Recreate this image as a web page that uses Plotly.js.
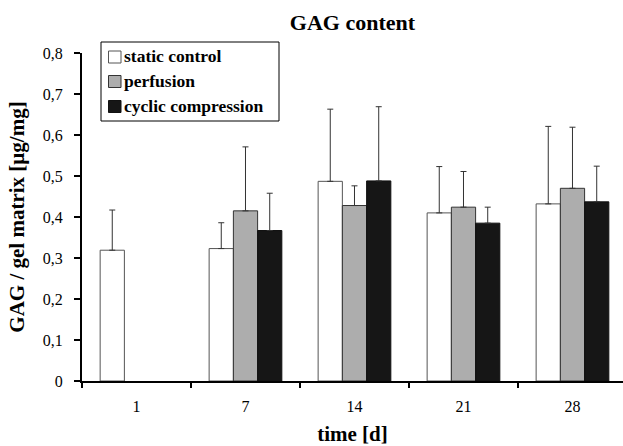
<!DOCTYPE html>
<html>
<head>
<meta charset="utf-8">
<script src="https://cdn.plot.ly/plotly-3.0.1.min.js"></script>
<style>html,body{margin:0;padding:0;background:#fff;}#chart{width:623px;height:446px;}</style>
</head>
<body>
<div id="chart"></div>
<script>
const days = ['1', '7', '14', '21', '28'];
const seriesNames = ['static control', 'perfusion', 'cyclic compression'];
const staticControl = [0.319, 0.323, 0.487, 0.410, 0.432];
const perfusion = [null, 0.415, 0.428, 0.424, 0.470];
const cyclicCompression = [null, 0.367, 0.488, 0.385, 0.437];
const staticErr = [0.098, 0.063, 0.176, 0.113, 0.189];
const perfusionErr = [null, 0.156, 0.048, 0.087, 0.149];
const cyclicErr = [null, 0.091, 0.181, 0.039, 0.087];
const yTickVals = [0, 0.1, 0.2, 0.3, 0.4, 0.5, 0.6, 0.7, 0.8];
const yTickText = ['0', '0,1', '0,2', '0,3', '0,4', '0,5', '0,6', '0,7', '0,8'];

const FONT = 'Liberation Serif';
const fills = ['#ffffff', '#adadad', '#161616'];
const outlines = ['#555555', '#333333', '#111111'];
const vals = [staticControl, perfusion, cyclicCompression];
const errs = [staticErr, perfusionErr, cyclicErr];

const traces = vals.map((v, i) => ({
  type: 'bar',
  name: seriesNames[i],
  x: days,
  y: v,
  marker: {color: fills[i], line: {color: outlines[i], width: 1}},
  error_y: {type: 'data', symmetric: false, array: errs[i], arrayminus: errs[i].map(() => 0),
            color: '#333333', thickness: 1, width: 3},
  hoverinfo: 'none'
}));

// layout geometry
const W = 623, H = 446;
const M = {l: 82, r: 0, t: 53, b: 65};
const pw = W - M.l - M.r, ph = H - M.t - M.b;
const px = x => (x - M.l) / pw;
const py = y => (H - M.b - y) / ph;

const shapes = [];
const annotations = [];
// legend box
shapes.push({type: 'rect', xref: 'paper', yref: 'paper', x0: px(101), x1: px(279), y0: py(121), y1: py(42),
  line: {color: '#000', width: 1}, fillcolor: '#fff', layer: 'above'});
const legY = [57, 81.5, 106.5];
seriesNames.forEach((n, i) => {
  shapes.push({type: 'rect', xref: 'paper', yref: 'paper', x0: px(108.5), x1: px(121), y0: py(legY[i] + 6), y1: py(legY[i] - 6),
    line: {color: outlines[i], width: 1}, fillcolor: fills[i], layer: 'above'});
  annotations.push({xref: 'paper', yref: 'paper', x: px(122), y: py(legY[i] - 1), xanchor: 'left', yanchor: 'middle',
    text: '<b>' + n + '</b>', showarrow: false, font: {family: FONT, size: 17.5, color: '#000'}});
});

const layout = {
  width: W, height: H,
  margin: M,
  paper_bgcolor: '#fff', plot_bgcolor: '#fff',
  showlegend: false,
  barmode: 'group', bargap: 0.333, bargroupgap: 0,
  font: {family: FONT, color: '#000'},
  title: {text: '<b>GAG content</b>', font: {family: FONT, size: 22, color: '#000'},
          xref: 'paper', x: 0.5, xanchor: 'center', yref: 'container', y: 1 - 22 / H, yanchor: 'middle'},
  xaxis: {
    type: 'category', range: [-0.5, 4.5 - (627 - 623) / 109.5],
    tickson: 'boundaries', ticks: 'outside', ticklen: 5, tickwidth: 2, tickcolor: '#000',
    showline: true, linecolor: '#000', linewidth: 2, showgrid: false, zeroline: false,
    tickfont: {family: FONT, size: 16, color: '#000'},
    ticklabelstandoff: 10,
    title: {text: '<b>time [d]</b>', font: {family: FONT, size: 21, color: '#000'}, standoff: 12},
    automargin: false, fixedrange: true
  },
  yaxis: {
    range: [0, 0.8], tickvals: yTickVals, ticktext: yTickText,
    ticks: 'outside', ticklen: 6, tickwidth: 2, tickcolor: '#000',
    showline: true, linecolor: '#000', linewidth: 2, showgrid: false, zeroline: false,
    tickfont: {family: FONT, size: 16, color: '#000'},
    ticklabelstandoff: 8,
    title: {text: '<b>GAG / gel matrix [µg/mg]</b>', font: {family: FONT, size: 21, color: '#000'}, standoff: 12},
    automargin: false, fixedrange: true
  },
  shapes: shapes,
  annotations: annotations
};

Plotly.newPlot('chart', traces, layout, {staticPlot: true, displayModeBar: false});
</script>
</body>
</html>
